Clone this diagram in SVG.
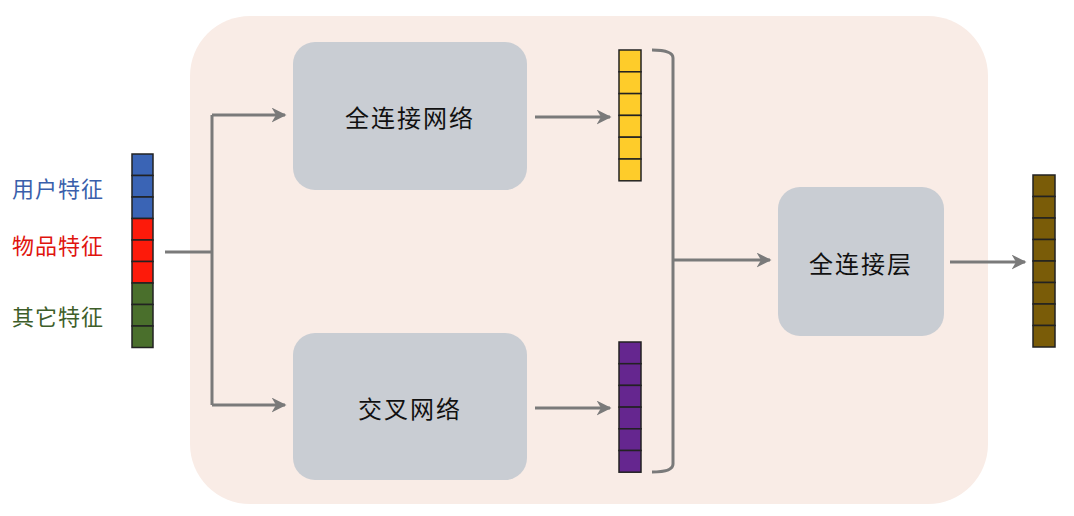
<svg xmlns="http://www.w3.org/2000/svg" width="1074" height="516" viewBox="0 0 1074 516">
<style>
.box{fill:#c9cdd3;}
.t{font-family:"Noto Sans CJK SC","Noto Sans",sans-serif;font-size:24px;fill:#111;text-anchor:middle;dominant-baseline:central;letter-spacing:2px}
.lb{font-family:"Noto Sans CJK SC",sans-serif;font-size:22px;letter-spacing:1px}
.c{fill:none;stroke:#7a7a7a;stroke-width:3}
.cell{stroke:#222;stroke-width:1.5}
</style>
<defs>
<marker id="a" viewBox="0 0 10 10" refX="9" refY="5" markerWidth="5" markerHeight="5" orient="auto" markerUnits="strokeWidth"><path d="M0,0 L10,5 L0,10 L3,5 z" fill="#7a7a7a"/></marker>
</defs>
<rect width="1074" height="516" fill="#fff"/>
<rect x="190" y="16" width="798" height="488" rx="60" fill="#f9ece6"/>
<g id="labels">
<text class="lb" x="12" y="197" fill="#3a5fab">用户特征</text>
<text class="lb" x="12" y="254" fill="#e0140e">物品特征</text>
<text class="lb" x="12" y="325" fill="#3e5e2a">其它特征</text>
</g>
<g id="input">
<rect class="cell" x="132" y="154" width="21" height="21.5" fill="#3a64b5"/>
<rect class="cell" x="132" y="175.5" width="21" height="21.5" fill="#3a64b5"/>
<rect class="cell" x="132" y="197" width="21" height="21.5" fill="#3a64b5"/>
<rect class="cell" x="132" y="218.5" width="21" height="21.5" fill="#fd1a0a"/>
<rect class="cell" x="132" y="240" width="21" height="21.5" fill="#fd1a0a"/>
<rect class="cell" x="132" y="261.5" width="21" height="21.5" fill="#fd1a0a"/>
<rect class="cell" x="132" y="283" width="21" height="21.5" fill="#4a6f2c"/>
<rect class="cell" x="132" y="304.5" width="21" height="21.5" fill="#4a6f2c"/>
<rect class="cell" x="132" y="326" width="21" height="21.5" fill="#4a6f2c"/>
</g>
<g id="fc">
<rect class="box" x="293" y="42" width="234" height="148" rx="22"/>
<text class="t" x="410" y="116">全连接网络</text>
</g>
<g id="cross">
<rect class="box" x="293" y="333" width="234" height="147" rx="22"/>
<text class="t" x="410" y="407">交叉网络</text>
</g>
<g id="fclayer">
<rect class="box" x="778" y="187" width="166" height="149" rx="22"/>
<text class="t" x="861" y="262">全连接层</text>
</g>
<g id="yellow">
<rect class="cell" x="619" y="50" width="22" height="21.8" fill="#fecc2a"/>
<rect class="cell" x="619" y="71.8" width="22" height="21.8" fill="#fecc2a"/>
<rect class="cell" x="619" y="93.6" width="22" height="21.8" fill="#fecc2a"/>
<rect class="cell" x="619" y="115.4" width="22" height="21.8" fill="#fecc2a"/>
<rect class="cell" x="619" y="137.2" width="22" height="21.8" fill="#fecc2a"/>
<rect class="cell" x="619" y="159" width="22" height="21.8" fill="#fecc2a"/>
</g>
<g id="purple">
<rect class="cell" x="619" y="342" width="22" height="21.7" fill="#65268f"/>
<rect class="cell" x="619" y="363.7" width="22" height="21.7" fill="#65268f"/>
<rect class="cell" x="619" y="385.4" width="22" height="21.7" fill="#65268f"/>
<rect class="cell" x="619" y="407.1" width="22" height="21.7" fill="#65268f"/>
<rect class="cell" x="619" y="428.8" width="22" height="21.7" fill="#65268f"/>
<rect class="cell" x="619" y="450.5" width="22" height="21.7" fill="#65268f"/>
</g>
<g id="output">
<rect class="cell" x="1033" y="175" width="22" height="21.5" fill="#7a5c08"/>
<rect class="cell" x="1033" y="196.5" width="22" height="21.5" fill="#7a5c08"/>
<rect class="cell" x="1033" y="218" width="22" height="21.5" fill="#7a5c08"/>
<rect class="cell" x="1033" y="239.5" width="22" height="21.5" fill="#7a5c08"/>
<rect class="cell" x="1033" y="261" width="22" height="21.5" fill="#7a5c08"/>
<rect class="cell" x="1033" y="282.5" width="22" height="21.5" fill="#7a5c08"/>
<rect class="cell" x="1033" y="304" width="22" height="21.5" fill="#7a5c08"/>
<rect class="cell" x="1033" y="325.5" width="22" height="21.5" fill="#7a5c08"/>
</g>
<g id="connectors">
<path class="c" d="M165,252 H212"/>
<path class="c" d="M212,115 V405"/>
<path class="c" d="M212,115 H285" marker-end="url(#a)"/>
<path class="c" d="M212,405 H285" marker-end="url(#a)"/>
<path class="c" d="M535,117 H610" marker-end="url(#a)"/>
<path class="c" d="M535,408 H610" marker-end="url(#a)"/>
<path class="c" d="M652,50 Q673,50 673,58 V464 Q673,472 652,472"/>
<path class="c" d="M673,260 H770" marker-end="url(#a)"/>
<path class="c" d="M950,262 H1025" marker-end="url(#a)"/>
</g>
</svg>
